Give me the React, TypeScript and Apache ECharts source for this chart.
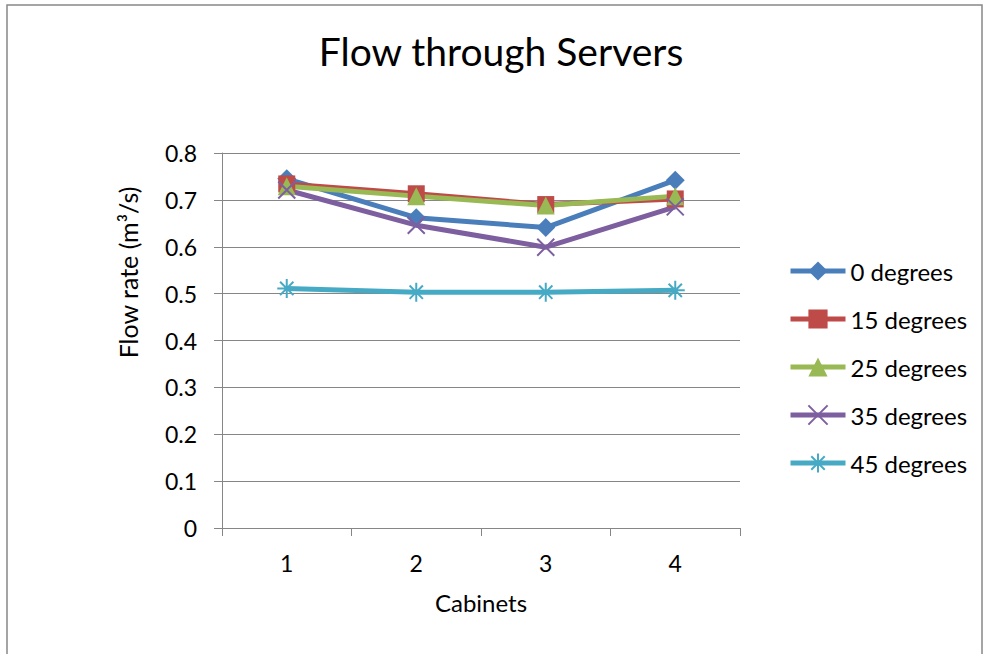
import React, { useEffect, useRef } from "react";
import * as echarts from "echarts";

const categories = ["1", "2", "3", "4"];
const seriesNames = ["0 degrees", "15 degrees", "25 degrees", "35 degrees", "45 degrees"];
const deg0 = [0.745, 0.662, 0.641, 0.742];
const deg15 = [0.734, 0.713, 0.69, 0.702];
const deg25 = [0.729, 0.708, 0.688, 0.708];
const deg35 = [0.721, 0.646, 0.599, 0.685];
const deg45 = [0.511, 0.503, 0.503, 0.507];
const yTicks = ["0", "0.1", "0.2", "0.3", "0.4", "0.5", "0.6", "0.7", "0.8"];

const colors = ["#4A7EBB", "#BE4B48", "#98B954", "#7D5FA0", "#46AAC5"];
const FONT = "Lato, 'Open Sans', sans-serif";

const crossPath = "path://M0,0L10,10M10,0L0,10";
const starPath = "path://M5,0L5,10M0,5L10,5M1.5,1.5L8.5,8.5M8.5,1.5L1.5,8.5";

export default function App() {
  const ref = useRef<HTMLDivElement>(null);
  useEffect(() => {
    if (!ref.current) return;
    const chart = echarts.init(ref.current, null, { renderer: "svg" });
    const datas = [deg0, deg15, deg25, deg35, deg45];
    const symbols = ["diamond", "rect", "triangle", crossPath, starPath];
    const sizes = [19, 17, 18, 17, 19];
    const series = datas.map((d, i) => {
      const stroked = i >= 3;
      return {
        name: seriesNames[i],
        type: "line",
        data: d,
        symbol: symbols[i],
        symbolSize: sizes[i],
        showAllSymbol: true,
        lineStyle: { color: colors[i], width: 5 },
        itemStyle: stroked
          ? { color: colors[i], borderColor: colors[i], borderWidth: 2 }
          : { color: colors[i], borderWidth: 0 },
      };
    });
    chart.setOption({
      animation: false,
      backgroundColor: "#ffffff",
      title: {
        text: "Flow through Servers",
        left: 496,
        textAlign: "center",
        top: 26,
        textStyle: { fontFamily: FONT, fontSize: 39, fontWeight: "normal", color: "#000" },
      },
      graphic: [
        {
          type: "rect",
          shape: { x: 7, y: 5, width: 975, height: 660 },
          style: { fill: "none", stroke: "#888888", lineWidth: 1.5 },
          silent: true,
        },
      ],
      legend: {
        orient: "vertical",
        left: 783,
        top: 254,
        itemWidth: 55,
        itemHeight: 24,
        itemGap: 24,
        data: seriesNames,
        lineStyle: { width: 5 },
        textStyle: { fontFamily: FONT, fontSize: 24, color: "#000", lineHeight: 24 },
      },
      grid: { left: 222, right: 246, top: 153, bottom: 126 },
      xAxis: {
        type: "category",
        data: categories,
        boundaryGap: true,
        name: "Cabinets",
        nameLocation: "middle",
        nameGap: 62,
        nameTextStyle: { fontFamily: FONT, fontSize: 24, color: "#000" },
        axisLine: { lineStyle: { color: "#868686", width: 1 } },
        axisTick: { show: true, length: 8, alignWithLabel: false, lineStyle: { color: "#868686" } },
        axisLabel: { fontFamily: FONT, fontSize: 23, color: "#000", margin: 23 },
      },
      yAxis: {
        type: "value",
        min: 0,
        max: 0.8,
        interval: 0.1,
        name: "Flow rate (m³/s)",
        nameLocation: "middle",
        nameGap: 82,
        nameTextStyle: {
          fontFamily: FONT,
          fontSize: 25,
          color: "#000",
          padding: [0, 0, 0, 136],
        },
        axisLine: { show: true, lineStyle: { color: "#868686", width: 1 } },
        axisTick: { show: true, length: 8, lineStyle: { color: "#868686" } },
        splitLine: { show: true, lineStyle: { color: "#868686", width: 1 } },
        axisLabel: {
          fontFamily: FONT,
          fontSize: 23,
          color: "#000",
          margin: 25,
          formatter: (v: number) => yTicks[Math.round(v * 10)] ?? String(v),
        },
      },
      series,
    });
    return () => chart.dispose();
  }, []);
  return (
    <div
      ref={ref}
      style={{ position: "fixed", left: 0, top: 0, width: 986, height: 654, background: "#fff" }}
    />
  );
}
